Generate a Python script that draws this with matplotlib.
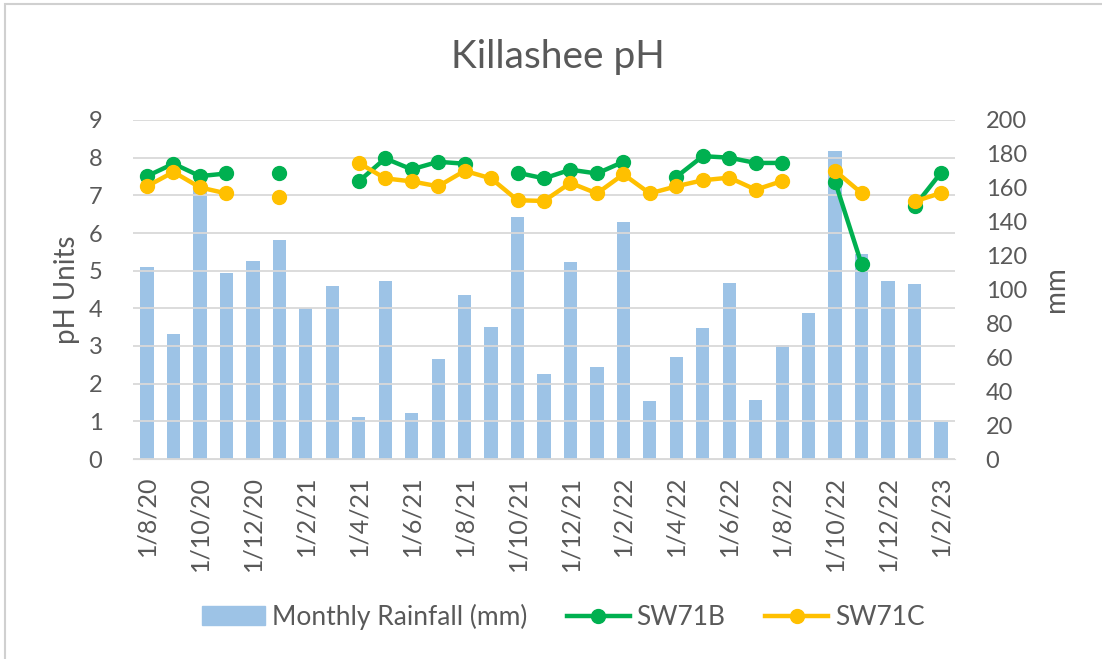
import numpy as np
import matplotlib
matplotlib.use("Agg")
import matplotlib.pyplot as plt
from matplotlib.patches import Rectangle
from matplotlib.lines import Line2D

plt.rcParams['font.family'] = ['Lato', 'DejaVu Sans']

nan = np.nan

# monthly categories Aug 2020 .. Feb 2023
months = ["1/8/20", "1/9/20", "1/10/20", "1/11/20", "1/12/20", "1/1/21", "1/2/21",
          "1/3/21", "1/4/21", "1/5/21", "1/6/21", "1/7/21", "1/8/21", "1/9/21",
          "1/10/21", "1/11/21", "1/12/21", "1/1/22", "1/2/22", "1/3/22", "1/4/22",
          "1/5/22", "1/6/22", "1/7/22", "1/8/22", "1/9/22", "1/10/22", "1/11/22",
          "1/12/22", "1/1/23", "1/2/23"]

rain = [113, 74, 160, 110, 117, 129, 89, 102, 25, 105, 27, 59, 97, 78, 143, 50,
        116, 54, 140, 34, 60, 77, 104, 35, 67, 86, 182, 121, 105, 103, 22]

sw71b = [7.51, 7.84, 7.51, 7.58, nan, 7.58, nan, nan, 7.37, 7.98, 7.69, 7.89, 7.84,
         nan, 7.60, 7.45, 7.68, 7.58, 7.89, nan, 7.49, 8.04, 8.00, 7.86, 7.86, nan,
         7.36, 5.17, nan, 6.71, 7.60]
sw71c = [7.24, 7.62, 7.21, 7.05, nan, 6.96, nan, nan, 7.86, 7.45, 7.37, 7.24, 7.65,
         7.45, 6.87, 6.85, 7.33, 7.05, 7.56, 7.05, 7.24, 7.40, 7.47, 7.15, 7.38, nan,
         7.65, 7.06, nan, 6.84, 7.06]

txt = '#595959'
x = np.arange(len(months))

fig = plt.figure(figsize=(11.02, 6.59), dpi=100)
# chart border (only left and top edges fall inside the image)
fig.patches.append(Rectangle((5/1102, -0.1), 1.2, 1.1 - 4/659, transform=fig.transFigure,
                             fill=False, edgecolor='#d0d0d0', linewidth=1.5))

ax = fig.add_axes([133/1102, 1 - 459/659, 822/1102, 339/659])
ax2 = ax.twinx()

ax2.bar(x, rain, width=0.5, color='#9dc3e6', label='Monthly Rainfall (mm)')
ax2.set_ylim(0, 200)
ax2.set_yticks(np.arange(0, 201, 20))

ax.set_zorder(ax2.get_zorder() + 1)
ax.patch.set_visible(False)
ax.plot(x, sw71b, color='#00b050', lw=3.2, marker='o', ms=10, label='SW71B')
ax.plot(x, sw71c, color='#ffc000', lw=3.2, marker='o', ms=10, label='SW71C')
ax.set_ylim(0, 9)
ax.set_yticks(range(10))
ax.set_xlim(-0.53, len(months) - 0.47)
ax.set_xticks(x[::2])
ax.set_xticklabels(months[::2], rotation=90)
ax.yaxis.grid(True, color='#d9d9d9', lw=1.3)
ax.set_axisbelow(True)

for a in (ax, ax2):
    for s in a.spines.values():
        s.set_visible(False)
    a.tick_params(length=0, colors=txt, labelsize=17)
ax.spines['bottom'].set_visible(True)
ax.spines['bottom'].set_color('#d9d9d9')
ax.tick_params(axis='x', labelsize=18, pad=12)
ax.tick_params(axis='y', pad=22)
ax2.tick_params(axis='y', pad=22)

ax.set_ylabel('pH Units', fontsize=20, color=txt, labelpad=6)
ax2.set_ylabel('mm', fontsize=20, color=txt, labelpad=12)
fig.text(0.506, 0.913, 'Killashee pH', ha='center', va='center', fontsize=28, color=txt)

handles = [Rectangle((0, 0), 1, 1, color='#9dc3e6'),
           Line2D([], [], color='#00b050', lw=3.2, marker='o', ms=10),
           Line2D([], [], color='#ffc000', lw=3.2, marker='o', ms=10)]
fig.legend(handles, ['Monthly Rainfall (mm)', 'SW71B', 'SW71C'], loc='center',
           bbox_to_anchor=(0.511, 0.064), ncol=3, frameon=False, fontsize=19,
           labelcolor=txt, handlelength=2.4, handletextpad=0.25, columnspacing=1.5)

fig.savefig('out.png', dpi=100)
